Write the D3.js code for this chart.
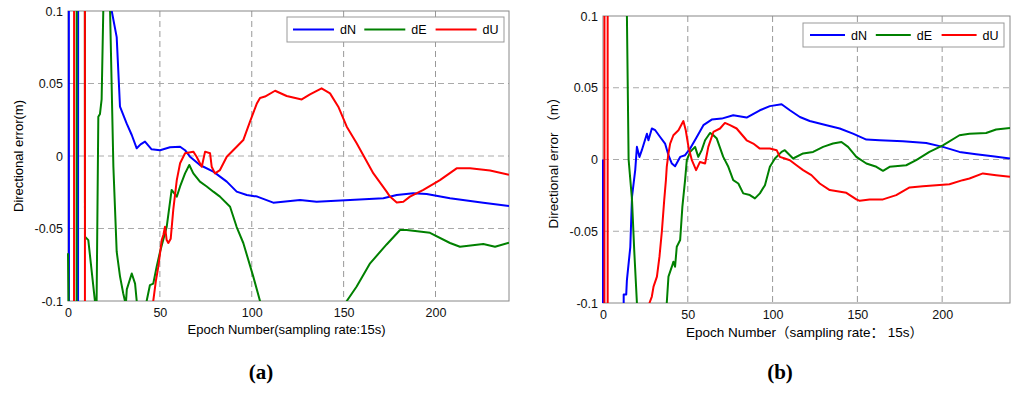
<!DOCTYPE html>
<html>
<head>
<meta charset="utf-8">
<script src="https://cdn.jsdelivr.net/npm/d3@7"></script>
<style>
  body { margin: 0; background: #fff; }
  svg { display: block; }
  text { font-family: "Liberation Sans", Arial, "Noto Sans CJK SC", sans-serif; }
</style>
</head>
<body>
<svg id="chart"></svg>
<script>
// epoch / value pairs
const xTicks = [0, 50, 100, 150, 200];
const yTicks = [-0.1, -0.05, 0, 0.05, 0.1];
const seriesNames = ['dN', 'dE', 'dU'];

// panel (a)
const aN = [[0, 2], [1, -2], [5, -2], [6, 2], [22.5, 2], [23.8, 0.1], [26.5, 0.082], [28.3, 0.034], [31.9, 0.0225],
  [34.7, 0.0145], [37.4, 0.0053], [39.5, 0.008], [41.9, 0.0099], [45.5, 0.0046], [50.1, 0.004], [55.5, 0.006],
  [61, 0.0064], [63.7, 0.004], [66.4, -0.0005], [71.8, -0.0062], [79.1, -0.0108], [86.4, -0.0177], [91.8, -0.0246],
  [97.3, -0.0269], [103, -0.028], [111.7, -0.0322], [126.3, -0.0303], [135.3, -0.0315], [153.5, -0.0303],
  [171.6, -0.0292], [178.9, -0.0269], [187.9, -0.0257], [195.2, -0.0262], [207.9, -0.0292], [226, -0.0322],
  [240, -0.0345]];
const aE = [[0, -0.067], [1.2, -0.2], [4.4, -2], [5, 2], [8.4, 2], [9.25, -0.0557], [11.05, -0.058], [14.7, -0.1005],
  [15.2, -0.15], [16.5, 0.027], [17.4, 0.029], [18.3, 0.039], [19.2, 0.1], [20.8, 0.125], [22.9, 0.1],
  [24.7, -0.0074], [26.5, -0.066], [28.3, -0.083], [30.1, -0.095], [31, -0.1], [31.5, -0.102], [32, -0.092],
  [34.7, -0.081], [36.5, -0.088], [37.4, -0.1], [39.5, -0.125], [42, -0.125], [42.8, -0.1], [44.6, -0.089],
  [46.4, -0.088], [48.3, -0.076], [50.1, -0.066], [53.7, -0.049], [56.4, -0.0234], [59.2, -0.028], [61, -0.021],
  [63.7, -0.012], [66, -0.0062], [68.2, -0.012], [71.8, -0.0177], [75.5, -0.021], [79.1, -0.0246], [82.7, -0.028],
  [88.2, -0.035], [91.8, -0.049], [95.4, -0.06], [100.8, -0.083], [104.5, -0.1], [108, -0.12], [148, -0.12],
  [151.7, -0.1], [157.1, -0.09], [164.4, -0.074], [173.4, -0.061], [180.7, -0.051], [184.3, -0.051], [197, -0.053],
  [207.9, -0.06], [213.3, -0.0626], [226, -0.0607], [232.4, -0.0626], [240, -0.0598]];
const aU = [[0, -2], [3, -2], [3.6, 2], [8.8, 2], [9.6, -2], [45.5, -0.13], [46.4, -0.1], [47.9, -0.0855],
  [49.2, -0.076], [51, -0.058], [51.9, -0.0545], [52.8, -0.0488], [53.7, -0.058], [54.6, -0.06], [55.9, -0.057],
  [57.3, -0.037], [59.2, -0.0166], [61, -0.005], [63.7, 0.0019], [68.2, 0.003], [70, -0.0005], [71.8, -0.005],
  [72.8, -0.0074], [74.6, 0.003], [77.3, 0.0019], [78.2, -0.0074], [80, -0.012], [82.7, -0.0097], [86.4, -0.0005],
  [91.8, 0.0064], [95.4, 0.011], [99, 0.0235], [102.7, 0.036], [104.5, 0.04], [107.2, 0.041], [112.7, 0.045],
  [119, 0.0414], [127.2, 0.039], [131.7, 0.0425], [138, 0.0467], [142.6, 0.0432], [147.1, 0.034], [151.7, 0.0202],
  [157.1, 0.0088], [166.2, -0.012], [173.4, -0.0246], [175.2, -0.028], [178.9, -0.032], [182.5, -0.0315],
  [186.1, -0.028], [193.4, -0.0234], [202.4, -0.0166], [211.5, -0.0085], [218.8, -0.0085], [229.7, -0.01],
  [240, -0.013]];

// panel (b)
const bN = [[0, 0], [0, -2], [11.5, -2], [12.2, -0.094], [13.7, -0.094], [14.1, -0.084], [16.1, -0.061],
  [17.1, -0.026], [19, -0.0074], [20, 0.0088], [21.5, 0.0018], [22.9, 0.0065], [25.9, 0.018], [26.8, 0.0134],
  [28.8, 0.0216], [30.8, 0.0204], [33.7, 0.0157], [36.6, 0.0111], [38.6, 0.003], [40.6, -0.0028], [42.5, -0.0047],
  [45.5, 0.0018], [48.4, 0.003], [51.4, 0.0076], [55.3, 0.0157], [59.2, 0.0239], [64.1, 0.0278], [70, 0.0285],
  [76.8, 0.0308], [84.7, 0.0292], [92.5, 0.0343], [98.4, 0.0372], [105.3, 0.0385], [110.2, 0.0343],
  [116.1, 0.0296], [121.9, 0.0268], [131.8, 0.0239], [139.6, 0.0216], [147.4, 0.018], [155.3, 0.0139],
  [163.1, 0.0134], [176.8, 0.0127], [190.6, 0.0115], [200.4, 0.0088], [210.2, 0.0053], [220, 0.0037],
  [229.8, 0.0023], [240, 0.0007]];
const bE = [[0, 2], [13.4, 2], [14.1, 0.1], [15.1, 0], [17.1, -0.028], [18.4, -0.063], [20, -0.1], [21, -0.15],
  [36.5, -0.15], [37.6, -0.1], [38.6, -0.0816], [40.6, -0.0747], [41.5, -0.0712], [42.5, -0.0747], [43.5, -0.0608],
  [45.5, -0.0561], [46.8, -0.033], [48.4, -0.0144], [49.4, -0.0005], [51.4, 0.0053], [54.3, 0.0088],
  [56.2, 0.0018], [58.2, 0.0065], [60.2, 0.0134], [63.1, 0.0185], [65.1, 0.0169], [67.1, 0.0146], [70.9, 0.0018],
  [73.9, -0.0051], [76.8, -0.0144], [79.8, -0.0167], [82.7, -0.0236], [86.6, -0.0248], [89.6, -0.0271],
  [92.5, -0.0236], [95.5, -0.0179], [98.4, -0.0051], [101.4, 0.0007], [105.3, 0.0053], [107.2, 0.0065],
  [112.1, 0.0007], [118, 0.0042], [123.9, 0.0053], [129.8, 0.0088], [135.6, 0.0111], [140.6, 0.0122],
  [144.5, 0.0088], [149.4, 0.0018], [155.3, -0.0028], [161.2, -0.0051], [165.1, -0.0079], [169, -0.0051],
  [178.8, -0.004], [184.7, -0.0005], [192.5, 0.0053], [200.4, 0.0099], [210.2, 0.0169], [216.1, 0.018],
  [225.9, 0.0185], [231.8, 0.0209], [240, 0.022]];
const bU = [[0.7, -2], [1.0, 2], [2.6, 2], [2.9, -2], [26.5, -0.13], [27.4, -0.1], [28.8, -0.0955], [29.8, -0.0886],
  [31.8, -0.0816], [33.3, -0.0677], [34.7, -0.0503], [36.1, -0.0283], [37.1, -0.0144], [37.6, -0.0051],
  [38.6, 0.0042], [39.6, 0.0111], [41.5, 0.0169], [44.5, 0.0204], [47.4, 0.0268], [48.8, 0.0204], [50.4, 0.0088],
  [52.4, -0.0005], [54.9, -0.0074], [57.2, -0.0017], [60.2, -0.0028], [62.1, 0.0088], [65.1, 0.0192],
  [69, 0.0216], [71.9, 0.0255], [74.9, 0.0239], [78.8, 0.0216], [84.7, 0.0134], [88.6, 0.0111], [92.5, 0.0076],
  [98.4, 0.0076], [102.4, 0.0065], [104.3, 0.0018], [107.2, 0.0007], [110.2, -0.0005], [114.1, -0.004],
  [118, -0.0074], [122.9, -0.0109], [127.8, -0.0167], [133.7, -0.0213], [143.5, -0.0232], [149.4, -0.0278],
  [151.4, -0.0288], [157.2, -0.0278], [165.1, -0.0278], [172.9, -0.0248], [180.8, -0.0195], [188.6, -0.0186],
  [196.5, -0.0179], [204.3, -0.0172], [212.1, -0.0144], [216.1, -0.0132], [224, -0.0097], [231.8, -0.0109],
  [240, -0.0121]];

const colors = { dN: '#0000ff', dE: '#008000', dU: '#ff0000' };

const panels = [
  {
    id: 'a', series: { dN: aN, dE: aE, dU: aU },
    left: 68, right: 509, top: 11, bottom: 301,
    yLabel: 'Directional error(m)', yLabelX: 18, labelSize: 13,
    xLabel: 'Epoch Number(sampling rate:15s)', xLabelY: 334,
    legend: { x: 287, y: 17, w: 217, h: 25, lineX: 6, lineLen: 41, step: 71.3 },
    tag: '(a)', tagX: 261
  },
  {
    id: 'b', series: { dN: bN, dE: bE, dU: bU },
    left: 603, right: 1010, top: 16, bottom: 303,
    yLabel: 'Directional error （m）', yLabelX: 553, labelSize: 13.5,
    xLabel: 'Epoch Number（sampling rate： 15s）', xLabelY: 337,
    legend: { x: 803, y: 23, w: 201, h: 24, lineX: 7, lineLen: 35, step: 65.8 },
    tag: '(b)', tagX: 780
  }
];

const svg = d3.select('#chart')
  .attr('width', 1024)
  .attr('height', 397);

const fmt = d => String(+d.toFixed(2));

panels.forEach(p => {
  const x = d3.scaleLinear().domain([0, 240]).range([p.left, p.right]);
  const y = d3.scaleLinear().domain([-0.1, 0.1]).range([p.bottom, p.top]);
  const g = svg.append('g');

  svg.append('clipPath')
    .attr('id', 'clip-' + p.id)
    .append('rect')
    .attr('x', p.left - 1.5)
    .attr('y', p.top)
    .attr('width', p.right - p.left + 1.5)
    .attr('height', p.bottom - p.top);

  // grid
  g.selectAll('.vgrid')
    .data(xTicks.filter(d => d > 0))
    .enter()
    .append('line')
    .attr('x1', d => x(d)).attr('x2', d => x(d))
    .attr('y1', p.top).attr('y2', p.bottom)
    .style('stroke', '#999')
    .style('stroke-dasharray', '6,4');

  g.selectAll('.hgrid')
    .data(yTicks.filter(d => d > -0.1 && d < 0.1))
    .enter()
    .append('line')
    .attr('x1', p.left).attr('x2', p.right)
    .attr('y1', d => y(d)).attr('y2', d => y(d))
    .style('stroke', '#aaa')
    .style('stroke-dasharray', '6,4');

  // frame
  g.append('rect')
    .attr('x', p.left).attr('y', p.top)
    .attr('width', p.right - p.left).attr('height', p.bottom - p.top)
    .style('fill', 'none')
    .style('stroke', '#888')
    .style('stroke-width', 1);

  // axes
  const xAxis = g.append('g')
    .attr('transform', `translate(0,${p.bottom})`)
    .call(d3.axisBottom(x).tickValues(xTicks).tickSize(0).tickPadding(7).tickFormat(d3.format('d')));
  const yAxis = g.append('g')
    .attr('transform', `translate(${p.left},0)`)
    .call(d3.axisLeft(y).tickValues(yTicks).tickSize(0).tickPadding(5).tickFormat(fmt));
  [xAxis, yAxis].forEach(a => {
    a.select('.domain').remove();
    a.selectAll('text')
      .style('font-size', '12.5px')
      .style('fill', '#111')
      .style('font-family', '"Liberation Sans", Arial, sans-serif');
  });

  // lines
  const line = d3.line().x(d => x(d[0])).y(d => y(d[1]));
  const plot = g.append('g').attr('clip-path', `url(#clip-${p.id})`);
  seriesNames.forEach(name => {
    plot.append('path')
      .datum(p.series[name])
      .attr('d', line)
      .style('fill', 'none')
      .style('stroke', colors[name])
      .style('stroke-width', 2)
      .style('stroke-linejoin', 'round');
  });

  // legend
  const L = p.legend;
  const leg = g.append('g').attr('transform', `translate(${L.x},${L.y})`);
  leg.append('rect')
    .attr('width', L.w).attr('height', L.h)
    .style('fill', '#fff')
    .style('stroke', '#999');
  seriesNames.forEach((name, i) => {
    const lx = L.lineX + i * L.step;
    leg.append('line')
      .attr('x1', lx).attr('x2', lx + L.lineLen)
      .attr('y1', L.h / 2).attr('y2', L.h / 2)
      .style('stroke', colors[name])
      .style('stroke-width', 2);
    leg.append('text')
      .attr('x', lx + L.lineLen + 6)
      .attr('y', L.h / 2 + 4.5)
      .style('font-size', '12.5px')
      .text(name);
  });

  // labels
  g.append('text')
    .attr('transform', `translate(${p.yLabelX},${(p.top + p.bottom) / 2}) rotate(-90)`)
    .attr('text-anchor', 'middle')
    .attr('dy', '0.35em')
    .style('font-size', p.labelSize + 'px')
    .text(p.yLabel);

  g.append('text')
    .attr('x', (p.left + p.right) / 2 - 2)
    .attr('y', p.xLabelY)
    .attr('text-anchor', 'middle')
    .style('font-size', p.labelSize + 'px')
    .text(p.xLabel);

  g.append('text')
    .attr('x', p.tagX)
    .attr('y', 379)
    .attr('text-anchor', 'middle')
    .style('font-family', '"Liberation Serif", "Times New Roman", serif')
    .style('font-size', '21px')
    .style('font-weight', 'bold')
    .text(p.tag);
});
</script>
</body>
</html>
